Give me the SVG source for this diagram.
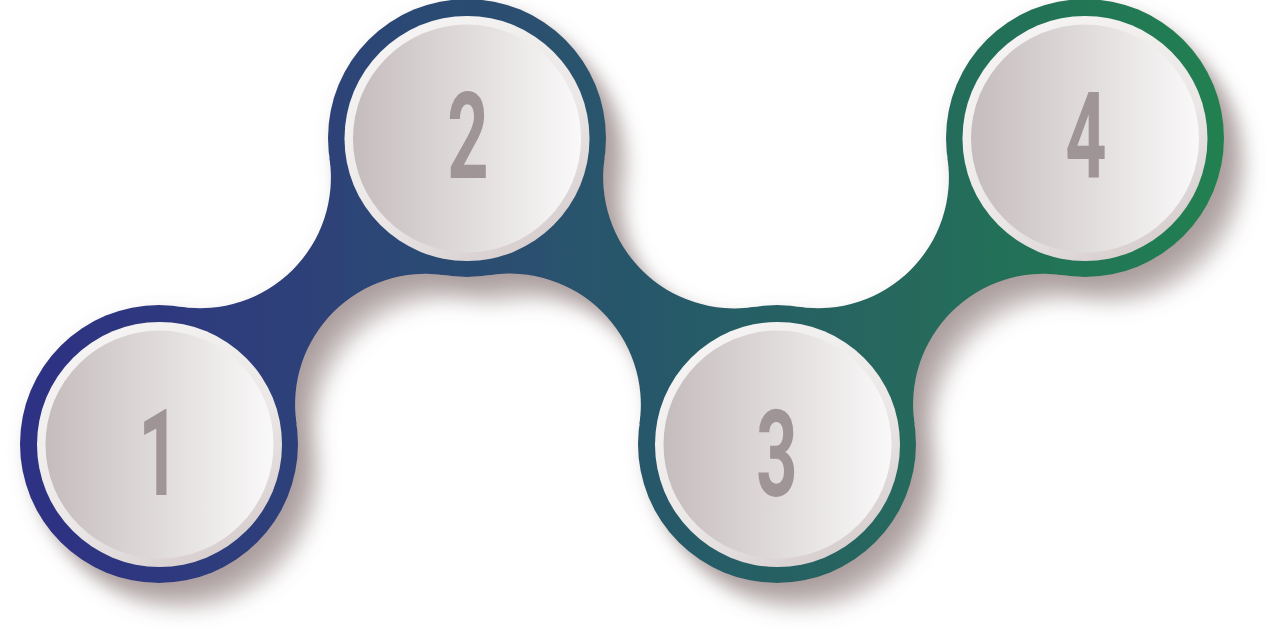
<svg xmlns="http://www.w3.org/2000/svg" width="1266" height="628" viewBox="0 0 1266 628">
  <style>
    .num { font-family: Roboto, "Liberation Sans", Arial, sans-serif; font-weight: bold; font-size: 120px; fill: #a09596; text-anchor: middle; }
    .rim { fill: url(#rimGrad); }
    .disc { fill: url(#discGrad); }
  </style>
  <defs>
    <linearGradient id="bandGrad" gradientUnits="userSpaceOnUse" x1="20" y1="0" x2="1224" y2="0">
      <stop offset="0" stop-color="#2f3084"/>
      <stop offset="0.25" stop-color="#2d4278"/>
      <stop offset="0.5" stop-color="#28566b"/>
      <stop offset="0.75" stop-color="#256a5c"/>
      <stop offset="1" stop-color="#218050"/>
    </linearGradient>
    <linearGradient id="rimGrad" x1="0.2" y1="0" x2="0.8" y2="1">
      <stop offset="0" stop-color="#f6f4f4"/>
      <stop offset="0.6" stop-color="#ebe7e7"/>
      <stop offset="1" stop-color="#d4caca"/>
    </linearGradient>
    <linearGradient id="discGrad" x1="0" y1="0" x2="1" y2="0">
      <stop offset="0" stop-color="#c5bcbd"/>
      <stop offset="0.5" stop-color="#e0dbdb"/>
      <stop offset="1" stop-color="#faf9f9"/>
    </linearGradient>
    <filter id="longShadow" x="-10%" y="-10%" width="125%" height="130%">
      <feColorMatrix in="SourceAlpha" type="matrix" values="0 0 0 0 0  0 0 0 0 0  0 0 0 0 0  0 0 0 0.2 0" result="a"/>
      <feOffset in="a" dx="5" dy="6" result="o1"/>
      <feOffset in="a" dx="10" dy="12" result="o2"/>
      <feOffset in="a" dx="15" dy="18" result="o3"/>
      <feOffset in="a" dx="20" dy="24" result="o4"/>
      <feOffset in="a" dx="25" dy="30" result="o5"/>
      <feMerge result="m">
        <feMergeNode in="o5"/>
        <feMergeNode in="o4"/>
        <feMergeNode in="o3"/>
        <feMergeNode in="o2"/>
        <feMergeNode in="o1"/>
      </feMerge>
      <feGaussianBlur in="m" stdDeviation="9" result="b"/>
      <feFlood flood-color="#806c6c"/>
      <feComposite operator="in" in2="b" result="shadow"/>
      <feMerge>
        <feMergeNode in="shadow"/>
        <feMergeNode in="SourceGraphic"/>
      </feMerge>
    </filter>
  </defs>

  <g id="band" filter="url(#longShadow)" fill="url(#bandGrad)">
    <g id="connectors">
      <path id="connector-1-2" d="M159,444 L180.25,306.63 A130.67,130.67 0 0 0 329.49,158.36 L467,138 L445.75,275.37 A130.67,130.67 0 0 0 296.51,423.64 Z"/>
      <path id="connector-2-3" d="M467,138 L604.54,158.13 A131.25,131.25 0 0 0 755.09,306.74 L777,444 L639.46,423.87 A131.25,131.25 0 0 0 488.91,275.26 Z"/>
      <path id="connector-3-4" d="M777,444 L798.25,306.63 A130.67,130.67 0 0 0 947.49,158.36 L1085,138 L1063.75,275.37 A130.67,130.67 0 0 0 914.51,423.64 Z"/>
    </g>
    <circle cx="159" cy="444" r="139"/>
    <circle cx="467" cy="138" r="139"/>
    <circle cx="777" cy="444" r="139"/>
    <circle cx="1085" cy="138" r="139"/>
  </g>

  <g id="node-1">
    <circle class="rim" cx="159.5" cy="444.5" r="122.5"/>
    <circle class="disc" cx="159.5" cy="444.5" r="114"/>
    <text class="num" transform="translate(159 495) scale(0.6 1)">1</text>
  </g>
  <g id="node-2">
    <circle class="rim" cx="467" cy="138.5" r="122.5"/>
    <circle class="disc" cx="467" cy="138.5" r="114"/>
    <text class="num" transform="translate(468 178) scale(0.6 1)">2</text>
  </g>
  <g id="node-3">
    <circle class="rim" cx="777.5" cy="444.5" r="122.5"/>
    <circle class="disc" cx="777.5" cy="444.5" r="114"/>
    <text class="num" transform="translate(777 496) scale(0.6 1)">3</text>
  </g>
  <g id="node-4">
    <circle class="rim" cx="1085" cy="138.5" r="122.5"/>
    <circle class="disc" cx="1085" cy="138.5" r="114"/>
    <text class="num" transform="translate(1086 178) scale(0.6 1)">4</text>
  </g>
</svg>
